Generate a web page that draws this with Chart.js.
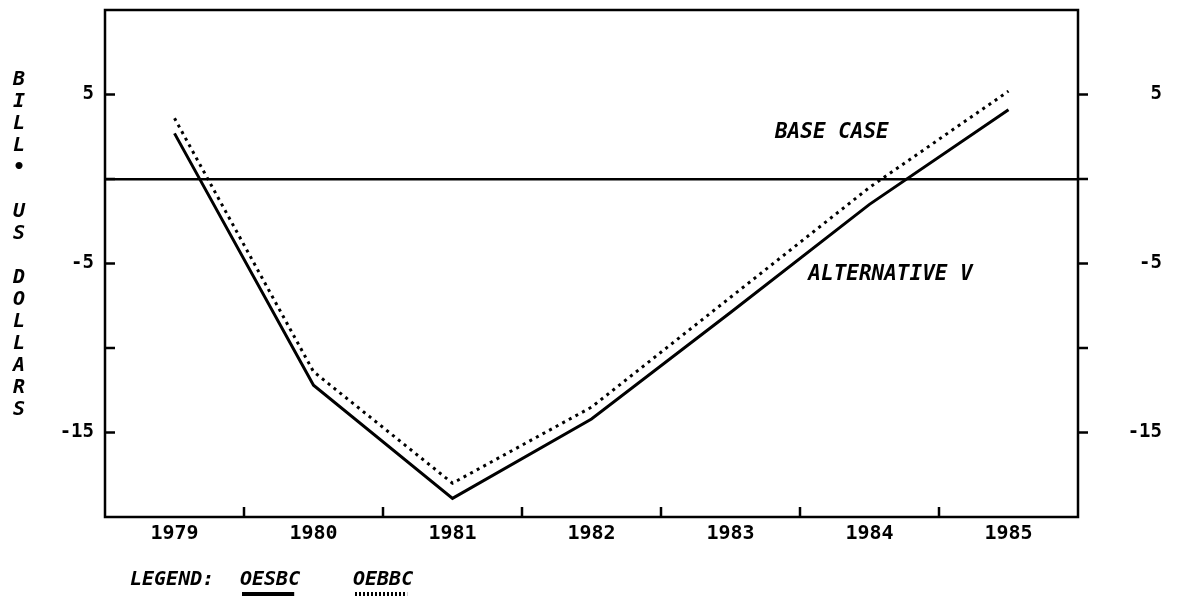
<!DOCTYPE html>
<html lang="en">
<head>
  <meta charset="UTF-8">
  <title>Bill. US Dollars - OESBC vs OEBBC</title>
  <script src="https://cdn.jsdelivr.net/npm/chart.js"></script>
  <style>
    html, body { margin: 0; padding: 0; background: #fff; }
    #wrap { position: relative; width: 1180px; height: 596px; }
  </style>
</head>
<body>
  <div id="wrap">
    <canvas id="chart"></canvas>
  </div>
  <script>
    // Data
    const years = ['1979', '1980', '1981', '1982', '1983', '1984', '1985'];
    const oesbc = [2.7, -12.2, -18.9, -14.2, -7.9, -1.5, 4.1];   // solid line
    const oebbc = [3.6, -11.4, -18.0, -13.5, -7.0, -0.5, 5.2];   // dotted line
    const yLabelValues = [5, -5, -15];
    const yTitle = ['B', 'I', 'L', 'L', '•', '', 'U', 'S', '', 'D', 'O', 'L', 'L', 'A', 'R', 'S'];

    const numFont = { family: 'DejaVu Sans Mono', size: 19, weight: 'bold' };
    const italicFont = 'italic bold 20px "DejaVu Sans Mono"';

    function yLabel(v) {
      return yLabelValues.includes(v) ? String(v) : '';
    }

    // keep the label padding from pushing the plot down
    function fixYAxis(width) {
      return function (scale) {
        scale.width = width;
        scale.paddingTop = 8;
        scale.paddingBottom = 8;
      };
    }

    // Frame, inward tick marks, notes, axis title and legend
    const decorPlugin = {
      id: 'decor',
      afterDraw(chart) {
        const ctx = chart.ctx;
        const area = chart.chartArea;
        const x = chart.scales.x;
        const y = chart.scales.y;

        ctx.save();
        ctx.strokeStyle = '#000';
        ctx.lineWidth = 2.5;
        ctx.strokeRect(area.left, area.top, area.right - area.left, area.bottom - area.top);

        // y tick marks: left axis pointing in, right axis pointing out
        y.ticks.forEach(t => {
          if (t.value === y.min || t.value === y.max) return;
          const py = y.getPixelForValue(t.value);
          ctx.beginPath();
          ctx.moveTo(area.left, py);
          ctx.lineTo(area.left + 10, py);
          ctx.moveTo(area.right, py);
          ctx.lineTo(area.right + 10, py);
          ctx.stroke();
        });

        // x tick marks between the years, pointing up
        for (let i = 0; i < years.length - 1; i++) {
          const px = (x.getPixelForValue(i) + x.getPixelForValue(i + 1)) / 2;
          ctx.beginPath();
          ctx.moveTo(px, area.bottom);
          ctx.lineTo(px, area.bottom - 10);
          ctx.stroke();
        }

        // notes on the plot
        ctx.fillStyle = '#000';
        ctx.font = 'italic bold 21px "DejaVu Sans Mono"';
        ctx.textBaseline = 'middle';
        ctx.textAlign = 'left';
        ctx.fillText('BASE CASE', x.getPixelForValue(4.32), y.getPixelForValue(2.75));
        ctx.fillText('ALTERNATIVE V', x.getPixelForValue(4.56), y.getPixelForValue(-5.65));

        // stacked y title
        ctx.font = italicFont;
        ctx.textAlign = 'center';
        yTitle.forEach((ch, i) => {
          if (ch) ctx.fillText(ch, 19, 80 + i * 22);
        });

        // legend
        ctx.textAlign = 'left';
        ctx.textBaseline = 'alphabetic';
        ctx.fillText('LEGEND:', 130, 585);
        const items = [
          { ds: chart.data.datasets[0], x: 240 },
          { ds: chart.data.datasets[1], x: 353 }
        ];
        items.forEach(it => {
          ctx.fillText(it.ds.label, it.x, 585);
          const w = ctx.measureText(it.ds.label).width;
          ctx.beginPath();
          ctx.setLineDash(it.ds.borderDash ? [2, 2] : []);
          ctx.lineWidth = 4;
          ctx.moveTo(it.x + 2, 594);
          ctx.lineTo(it.x + w - 6, 594);
          ctx.stroke();
        });
        ctx.restore();
      }
    };

    new Chart(document.getElementById('chart'), {
      type: 'line',
      data: {
        labels: years,
        datasets: [
          {
            label: 'OESBC',
            data: oesbc,
            borderColor: '#000',
            borderWidth: 3,
            pointRadius: 0,
            tension: 0,
            fill: false
          },
          {
            label: 'OEBBC',
            data: oebbc,
            borderColor: '#000',
            borderWidth: 3,
            borderDash: [3, 4.5],
            pointRadius: 0,
            tension: 0,
            fill: false
          }
        ]
      },
      options: {
        responsive: true,
        maintainAspectRatio: false,
        animation: false,
        layout: { padding: { top: 10, left: 0, right: 18, bottom: 0 } },
        plugins: {
          legend: { display: false },
          tooltip: { enabled: false }
        },
        scales: {
          x: {
            type: 'category',
            offset: true,
            grid: { display: false, drawTicks: false, offset: true },
            border: { display: false },
            ticks: { color: '#000', font: { ...numFont, size: 20 }, padding: 5, maxRotation: 0 },
            afterFit(scale) { scale.height = 79; }
          },
          y: {
            position: 'left',
            min: -20,
            max: 10,
            grid: {
              drawTicks: false,
              lineWidth: 2.5,
              color: c => (c.tick && c.tick.value === 0 ? '#000' : 'rgba(0,0,0,0)')
            },
            border: { display: false },
            ticks: { stepSize: 5, color: '#000', font: numFont, padding: 11, callback: yLabel },
            afterFit: fixYAxis(105)
          },
          y2: {
            position: 'right',
            min: -20,
            max: 10,
            grid: { display: false, drawTicks: false },
            border: { display: false },
            ticks: { stepSize: 5, color: '#000', font: numFont, padding: 14, crossAlign: 'far', callback: yLabel },
            afterFit: fixYAxis(84)
          }
        }
      },
      plugins: [decorPlugin]
    });
  </script>
</body>
</html>
